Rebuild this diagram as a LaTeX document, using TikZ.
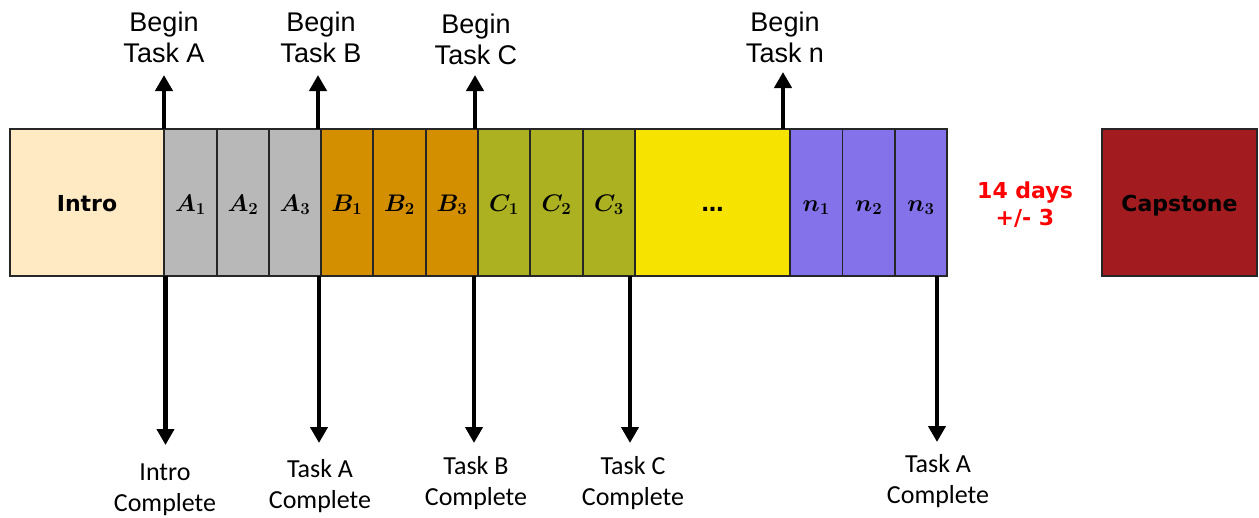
\documentclass[tikz,border=0pt]{standalone}
\usepackage{fix-cm}
\usepackage{amsmath,bm}
\usepackage{fontspec}
\usetikzlibrary{arrows.meta}
\newfontfamily\lblfont{Liberation Sans}
\newfontfamily\donefont{Carlito}
\newfontfamily\boxfont{DejaVu Sans}

\definecolor{cIntro}{HTML}{FFEAC4}
\definecolor{cA}{HTML}{B8B8B8}
\definecolor{cB}{HTML}{D38F00}
\definecolor{cC}{HTML}{ABB121}
\definecolor{cDots}{HTML}{F6E400}
\definecolor{cN}{HTML}{8372EA}
\definecolor{cCap}{HTML}{A21C1F}
\definecolor{cRed}{HTML}{FF0000}

\tikzset{
  cell/.style={draw=black!85, line width=1.5pt, minimum height=147pt,
    inner sep=0pt, outer sep=0pt, text height=17pt, text depth=0pt,
    font=\fontsize{24}{28}\selectfont},
  wordcell/.style={cell, font=\boxfont\bfseries\fontsize{22}{26}\selectfont},
  arr/.style={line width=4.5pt, -{Triangle[width=17pt,length=16pt]}},
  beginlbl/.style={anchor=base, align=center, inner sep=0pt,
    font=\lblfont\fontsize{27}{31}\selectfont},
  donelbl/.style={anchor=base, align=center, inner sep=0pt,
    font=\donefont\fontsize{26}{31}\selectfont},
}

\begin{document}
\begin{tikzpicture}[x=1pt, y=-1pt]
\useasboundingbox (0,0) rectangle (1259,517);

% timeline cells
\node[wordcell, fill=cIntro, minimum width=154pt] (intro) at (87,202.5) {Intro};
\node[cell, fill=cA, minimum width=53pt] (a1) at (190.5,202.5) {$\bm{A_1}$};
\node[cell, fill=cA, minimum width=52pt] (a2) at (243,202.5) {$\bm{A_2}$};
\node[cell, fill=cA, minimum width=52pt] (a3) at (295,202.5) {$\bm{A_3}$};
\node[cell, fill=cB, minimum width=52pt] (b1) at (347,202.5) {$\bm{B_1}$};
\node[cell, fill=cB, minimum width=53pt] (b2) at (399.5,202.5) {$\bm{B_2}$};
\node[cell, fill=cB, minimum width=52pt] (b3) at (452,202.5) {$\bm{B_3}$};
\node[cell, fill=cC, minimum width=52pt] (c1) at (504,202.5) {$\bm{C_1}$};
\node[cell, fill=cC, minimum width=53pt] (c2) at (556.5,202.5) {$\bm{C_2}$};
\node[cell, fill=cC, minimum width=52pt] (c3) at (609,202.5) {$\bm{C_3}$};
\node[wordcell, fill=cDots, minimum width=155pt] (more) at (712.5,202.5) {…};
\node[cell, fill=cN, minimum width=52.5pt] (n1) at (816.25,202.5) {$\bm{n_1}$};
\node[cell, fill=cN, minimum width=52.5pt] (n2) at (868.75,202.5) {$\bm{n_2}$};
\node[cell, fill=cN, minimum width=52pt] (n3) at (921,202.5) {$\bm{n_3}$};

% gap and capstone (anchor is the baseline of the last line)
\node[anchor=base, align=center, inner sep=0pt, text=cRed,
  font=\boxfont\bfseries\fontsize{22}{27}\selectfont] (gap) at (1025,225) {14 days\\+/- 3};
\node[wordcell, fill=cCap, minimum width=155pt] (cap) at (1179.5,202.5) {Capstone};

% start markers
\coordinate (tipA) at (164,75);
\coordinate (tipB) at (318,75);
\coordinate (tipC) at (475,75);
\coordinate (tipN) at (783,72);
\draw[arr] (intro.north east) -- (tipA);
\draw[arr] ([xshift=-3pt]a3.north east) -- (tipB);
\draw[arr] ([xshift=-3pt]b3.north east) -- (tipC);
\draw[arr] ([xshift=-7pt]more.north east) -- (tipN);

\node[beginlbl] (lblA) at (164,62) {Begin\\Task A};
\node[beginlbl] (lblB) at (321,62) {Begin\\Task B};
\node[beginlbl] (lblC) at (476,64.5) {Begin\\Task C};
\node[beginlbl] (lblN) at (785,62) {Begin\\Task n};

% completion markers
\coordinate (endI) at (165.5,445);
\coordinate (endA) at (319,443);
\coordinate (endB) at (474,443);
\coordinate (endC) at (630,443);
\coordinate (endN) at (937,442);
\draw[arr] ([xshift=1.5pt]intro.south east) -- (endI);
\draw[arr] ([xshift=-2pt]a3.south east) -- (endA);
\draw[arr] ([xshift=-4pt]b3.south east) -- (endB);
\draw[arr] ([xshift=-5pt]c3.south east) -- (endC);
\draw[arr] ([xshift=-10pt]n3.south east) -- (endN);

\node[donelbl] (doneI) at (165,511) {Intro\\Complete};
\node[donelbl] (doneA) at (320,508) {Task A\\Complete};
\node[donelbl] (doneB) at (476,505) {Task B\\Complete};
\node[donelbl] (doneC) at (633,505) {Task C\\Complete};
\node[donelbl] (doneN) at (938,503) {Task A\\Complete};
\end{tikzpicture}
\end{document}
